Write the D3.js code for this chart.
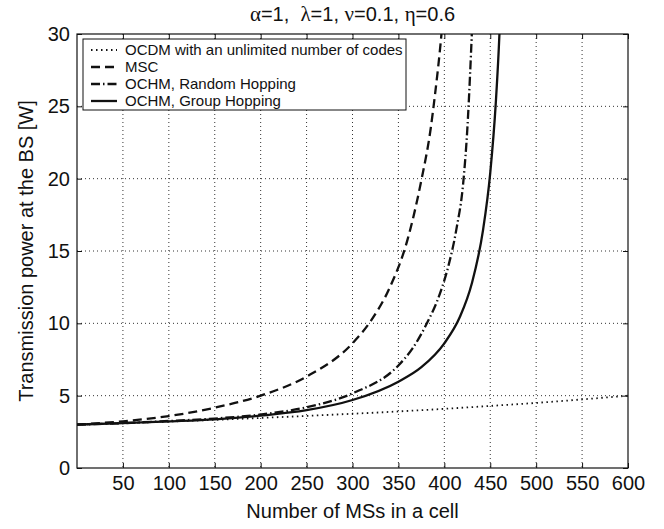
<!DOCTYPE html>
<html>
<head>
<meta charset="utf-8">
<script src="https://cdn.jsdelivr.net/npm/d3@7"></script>
<style>
  body { margin: 0; background: #fff; }
  text { font-family: "Liberation Sans", Arial, Helvetica, sans-serif; fill: #111; }
  .greek { font-family: "Liberation Serif", "Times New Roman", serif; }
</style>
</head>
<body>
<div id="chart"></div>
<script>

// tick labels
var xTicks = [50, 100, 150, 200, 250, 300, 350, 400, 450, 500, 550, 600];
var yTicks = [0, 5, 10, 15, 20, 25, 30];

// OCDM with an unlimited number of codes
var ocdmN = [0, 50, 100, 150, 200, 250, 300, 350, 400, 450, 500, 550, 600];
var ocdmP = [3.00, 3.10, 3.21, 3.33, 3.46, 3.60, 3.75, 3.91, 4.09, 4.29, 4.50, 4.74, 5.00];

// MSC
var mscN = [0, 50, 100, 150, 200, 250, 300, 320, 340, 360, 375, 385, 390, 396, 400];
var mscP = [3.0, 3.23, 3.59, 4.17, 5.0, 6.32, 8.62, 10.17, 12.4, 15.8, 19.9, 23.4, 25.9, 29.4, 32.3];

// OCHM, Random Hopping
var rhN = [0, 50, 100, 150, 200, 250, 300, 350, 365, 381, 395, 405, 413, 421, 425, 429, 432];
var rhP = [3.0, 3.1, 3.25, 3.42, 3.7, 4.2, 5.16, 7.09, 8.23, 10.0, 12.02, 14.11, 16.46, 20.0, 23.4, 28.6, 33.3];

// OCHM, Group Hopping
var ghN = [0, 50, 100, 150, 200, 250, 300, 350, 375, 400, 417, 430, 442, 450, 456, 460, 465];
var ghP = [3.0, 3.1, 3.22, 3.36, 3.62, 4.0, 4.7, 5.97, 6.97, 8.62, 10.45, 12.77, 16.39, 20.4, 25.2, 30.0, 40.0];

var seriesNames = ["OCDM with an unlimited number of codes", "MSC", "OCHM, Random Hopping", "OCHM, Group Hopping"];
var seriesX = [ocdmN, mscN, rhN, ghN];
var seriesY = [ocdmP, mscP, rhP, ghP];
var dashes = ["1.5,3.5", "9,5", "9,3,1.5,3", null];

// title pieces: [text, isGreek]
var titleParts = [["\u03B1", 1], ["=1,  ", 0], ["\u03BB", 1], ["=1, ", 0], ["\u03BD", 1], ["=0.1, ", 0], ["\u03B7", 1], ["=0.6", 0]];

var width = 664,
    height = 529,
    margin = {top: 34, right: 36, bottom: 61, left: 77};
var w = width - margin.left - margin.right,
    h = height - margin.top - margin.bottom;

var svg = d3.select("#chart").append("svg")
  .attr("width", width)
  .attr("height", height);

var x = d3.scaleLinear().domain([0, 600]).range([0, w]);
var y = d3.scaleLinear().domain([0, 30]).range([h, 0]);

var g = svg.append("g")
  .attr("transform", "translate(" + [margin.left, margin.top] + ")");

svg.append("defs").append("clipPath").attr("id", "clip")
  .append("rect").attr("width", w).attr("height", h);

// grid
g.selectAll(".vgrid").data(xTicks.slice(0, -1)).enter().append("line")
  .attr("x1", function(d) { return x(d); }).attr("x2", function(d) { return x(d); })
  .attr("y1", 0).attr("y2", h)
  .attr("stroke", "#333").attr("stroke-width", 1).attr("stroke-dasharray", "1,3");
g.selectAll(".hgrid").data(yTicks.slice(1, -1)).enter().append("line")
  .attr("y1", function(d) { return y(d); }).attr("y2", function(d) { return y(d); })
  .attr("x1", 0).attr("x2", w)
  .attr("stroke", "#333").attr("stroke-width", 1).attr("stroke-dasharray", "1,3");

// axes, ticks point inward like matlab
function styleAxis(sel) {
  sel.select(".domain").remove();
  sel.selectAll("line").attr("stroke", "#111");
  sel.selectAll("text").style("font-size", "20px").attr("fill", "#111");
}

g.append("g").attr("transform", "translate(0," + h + ")")
  .call(d3.axisBottom(x).tickValues(xTicks).tickSizeInner(-5).tickSizeOuter(0).tickPadding(8))
  .call(styleAxis);
g.append("g")
  .call(d3.axisTop(x).tickValues(xTicks).tickSizeInner(-5).tickSizeOuter(0).tickFormat(""))
  .call(styleAxis);
g.append("g")
  .call(d3.axisLeft(y).tickValues(yTicks).tickSizeInner(-5).tickSizeOuter(0).tickPadding(7))
  .call(styleAxis);
g.append("g").attr("transform", "translate(" + w + ",0)")
  .call(d3.axisRight(y).tickValues(yTicks).tickSizeInner(-5).tickSizeOuter(0).tickFormat(""))
  .call(styleAxis);

// curves
var line = d3.line()
  .x(function(d) { return x(d[0]); })
  .y(function(d) { return y(d[1]); })
  .curve(d3.curveMonotoneX);

var curves = g.append("g").attr("clip-path", "url(#clip)");
seriesNames.forEach(function(name, i) {
  var pts = d3.zip(seriesX[i], seriesY[i]);
  curves.append("path")
    .datum(pts)
    .attr("d", line)
    .attr("fill", "none")
    .attr("stroke", "#111")
    .attr("stroke-width", i === 0 ? 1.8 : 2.3)
    .attr("stroke-dasharray", dashes[i]);
});

// frame
g.append("rect")
  .attr("width", w).attr("height", h)
  .attr("fill", "none").attr("stroke", "#111").attr("stroke-width", 1.2);

// legend
var leg = g.append("g").attr("transform", "translate(6,5)");
leg.append("rect")
  .attr("width", 323).attr("height", 71)
  .attr("fill", "#fff").attr("stroke", "#111").attr("stroke-width", 1);
seriesNames.forEach(function(name, i) {
  var yy = 11 + i * 17;
  leg.append("line")
    .attr("x1", 8).attr("x2", 34).attr("y1", yy).attr("y2", yy)
    .attr("stroke", "#111").attr("stroke-width", i === 0 ? 1.8 : 2.3)
    .attr("stroke-dasharray", dashes[i]);
  leg.append("text")
    .attr("x", 42).attr("y", yy).attr("dy", "0.35em")
    .style("font-size", "15px")
    .text(name);
});

// titles
var title = svg.append("text")
  .attr("x", margin.left + w / 2).attr("y", 21)
  .attr("text-anchor", "middle")
  .style("font-size", "20px")
  .attr("xml:space", "preserve")
  .style("white-space", "pre");
titleParts.forEach(function(p) {
  title.append("tspan")
    .attr("class", p[1] ? "greek" : null)
    .style("font-size", p[1] ? "21px" : null)
    .text(p[0]);
});

svg.append("text")
  .attr("x", margin.left + w / 2).attr("y", 518)
  .attr("text-anchor", "middle")
  .style("font-size", "20px")
  .text("Number of MSs in a cell");

svg.append("text")
  .attr("transform", "translate(33," + (margin.top + h / 2) + ") rotate(-90)")
  .attr("text-anchor", "middle")
  .style("font-size", "20px")
  .text("Transmission power at the BS [W]");

</script>
</body>
</html>
